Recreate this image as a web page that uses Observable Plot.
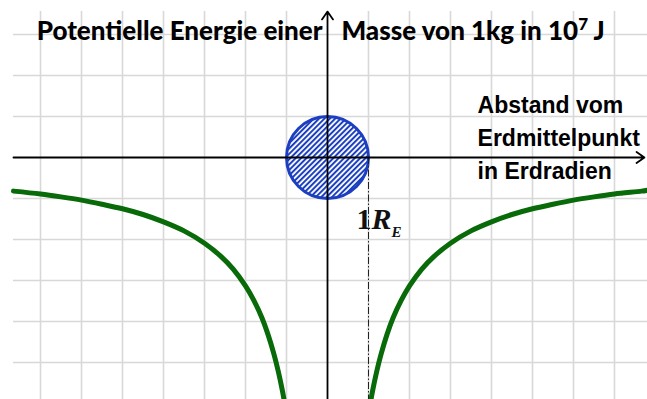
<!DOCTYPE html>
<html>
<head>
<meta charset="utf-8">
<script src="https://cdn.jsdelivr.net/npm/d3@7"></script>
<script src="https://cdn.jsdelivr.net/npm/@observablehq/plot@0.6"></script>
<style>
  html, body { margin: 0; padding: 0; background: #fff; }
  #chart svg { display: block; }
</style>
</head>
<body>
<div id="chart"></div>
<script>
// Distance from the Earth's centre (in Earth radii) and potential energy of 1 kg (in 10^7 J)
const distances = [1.02, 1.1, 1.2, 1.3, 1.45, 1.6, 1.8, 2, 2.3, 2.6, 3, 3.5, 4, 4.5, 5, 5.5, 6, 6.5, 7, 7.66, 7.8];
const energies  = [-6.14, -5.69, -5.22, -4.82, -4.32, -3.91, -3.48, -3.13, -2.72, -2.41, -2.09, -1.79, -1.57, -1.39, -1.25, -1.14, -1.04, -0.96, -0.89, -0.82, -0.80];

// Grid positions (integer units on both axes)
const gridX = [-7, -6, -5, -4, -3, -2, -1, 1, 2, 3, 4, 5, 6, 7];
const gridY = [3, 2, 1, -1, -2, -3, -4, -5];

const earthRadius = 1;
const titleLeft = "Potentielle Energie einer";
const titleRight = "Masse von 1kg in 10^7 J";
const axisLabel = ["Abstand vom", "Erdmittelpunkt", "in Erdradien"];
const radiusLabel = "1R_E";

// x/y domains in Earth radii and 10^7 J
const xDomain = [-7.976, 7.805];
const yDomain = [-5.902, 3.829];
const W = 647, H = 399;

const right = distances.map((r, i) => ({x: r, y: energies[i]}));
const left = distances.filter(r => r <= 7.66).map((r, i) => ({x: -r, y: energies[i]})).reverse();

const sx = Plot.scale({x: {domain: xDomain, range: [0, W]}});
const pxRadius = sx.apply(earthRadius) - sx.apply(0);

const blue = "#1b3fc0";
const green = "#086a08";
const grid = "#d8d8d8";

const chart = Plot.plot({
  width: W,
  height: H,
  margin: 0,
  x: {domain: xDomain, axis: null},
  y: {domain: yDomain, axis: null},
  style: {background: "#fff", overflow: "visible"},
  marks: [
    Plot.ruleX(gridX, {x: d => d, y1: yDomain[0], y2: 3.56, stroke: grid, strokeWidth: 1.6}),
    Plot.ruleY(gridY, {y: d => d, x1: -7.66, x2: xDomain[1], stroke: grid, strokeWidth: 1.6}),
    Plot.line(left, {x: "x", y: "y", stroke: green, strokeWidth: 5, curve: "catmull-rom", clip: true}),
    Plot.line(right, {x: "x", y: "y", stroke: green, strokeWidth: 5, curve: "catmull-rom", clip: true}),
    Plot.dot([0], {x: 0, y: 0, r: pxRadius, fill: "url(#hatch)", stroke: blue, strokeWidth: 3}),
    Plot.ruleX([earthRadius], {x: d => d, y1: 0, y2: yDomain[0], stroke: "#222", strokeWidth: 1, strokeDasharray: "7,2,1.5,2"}),
    Plot.arrow([0], {x1: -7.66, y1: 0, x2: 7.73, y2: 0, stroke: "#000", strokeWidth: 1.8, headLength: 8, headAngle: 70}),
    Plot.arrow([0], {x1: 0, y1: yDomain[0], x2: 0, y2: 3.56, stroke: "#000", strokeWidth: 1.8, headLength: 8, headAngle: 70}),
    Plot.text([titleLeft], {x: -0.12, y: 3.07, text: d => d, textAnchor: "end", lineAnchor: "middle",
      fontFamily: "Lato", fontWeight: 900, fontSize: 26, fill: "#000"}),
    Plot.text([titleRight], {x: 0.34, y: 3.07, text: d => d, textAnchor: "start", lineAnchor: "middle",
      fontFamily: "Lato", fontWeight: 900, fontSize: 26, fill: "#000"}),
    Plot.text([axisLabel.join("\n")], {x: 3.66, y: 0.54, text: d => d, textAnchor: "start", lineAnchor: "middle",
      lineHeight: 1.45, fontFamily: "Liberation Sans", fontWeight: "bold", fontSize: 23, fill: "#000"}),
    Plot.text([radiusLabel], {x: earthRadius, y: -1.5, dx: -12, text: d => d, textAnchor: "start", lineAnchor: "middle",
      fontFamily: "Liberation Serif", fontWeight: "bold", fontSize: 30, fill: "#111"})
  ]
});

// Hatch pattern for the Earth disc
const ns = "http://www.w3.org/2000/svg";
const defs = document.createElementNS(ns, "defs");
defs.innerHTML = `<pattern id="hatch" patternUnits="userSpaceOnUse" width="3.8" height="3.8" patternTransform="rotate(45)">
  <rect width="3.8" height="3.8" fill="#fff"/>
  <line x1="1" y1="0" x2="1" y2="3.8" stroke="${blue}" stroke-width="2"/>
</pattern>`;
chart.insertBefore(defs, chart.firstChild);

// Superscript exponent and subscript index
chart.querySelectorAll("text").forEach(t => {
  if (t.textContent === titleRight) {
    t.innerHTML = `Masse von 1kg in 10<tspan dy="-10" font-size="17">7</tspan><tspan dy="10"> J</tspan>`;
  } else if (t.textContent === radiusLabel) {
    t.innerHTML = `1<tspan font-style="italic">R</tspan><tspan font-style="italic" font-size="15" dy="8">E</tspan>`;
  }
});

document.getElementById("chart").append(chart);
</script>
</body>
</html>
